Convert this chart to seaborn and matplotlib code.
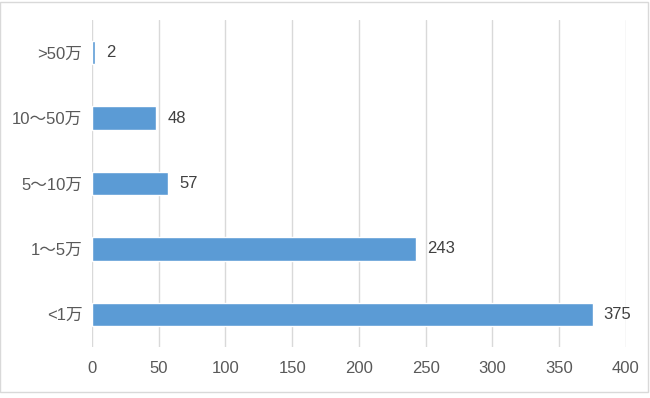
import matplotlib
matplotlib.use("Agg")
import matplotlib.pyplot as plt
from matplotlib.patches import Rectangle
import pandas as pd
import seaborn as sns

categories = [">50万", "10～50万", "5～10万", "1～5万", "<1万"]
counts = [2, 48, 57, 243, 375]
x_ticks = [0, 50, 100, 150, 200, 250, 300, 350, 400]

df = pd.DataFrame({"category": categories, "count": counts})

sns.set_theme(style="white")
plt.rcParams["font.family"] = ["Liberation Sans", "Noto Sans CJK SC", "DejaVu Sans"]

fig = plt.figure(figsize=(6.5, 3.98), dpi=100)
ax = fig.add_axes([0.1415, 0.128, 0.8215, 0.822])

sns.barplot(data=df, y="category", x="count", orient="h", color="#5B9BD5",
            saturation=1, width=0.36, ax=ax)

for cont in ax.containers:
    ax.bar_label(cont, labels=[str(v) for v in counts], padding=8,
                 fontsize=12, color="#404040")

ax.set_xlim(0, 400)
ax.set_ylim(4.5, -0.5)
ax.set_xticks(x_ticks)
ax.set_xlabel("")
ax.set_ylabel("")
ax.grid(axis="x", color="#d9d9d9", linewidth=1)
ax.set_axisbelow(True)
for s in ax.spines.values():
    s.set_visible(False)
ax.tick_params(axis="x", length=0, pad=10, labelsize=12, labelcolor="#595959")
ax.tick_params(axis="y", length=0, pad=7, labelsize=12, labelcolor="#595959")

fig.patches.append(Rectangle((0.0, 0.015), 0.997, 0.981, transform=fig.transFigure,
                             fill=False, edgecolor="#d9d9d9", linewidth=1))

fig.savefig("out.png", dpi=100)
